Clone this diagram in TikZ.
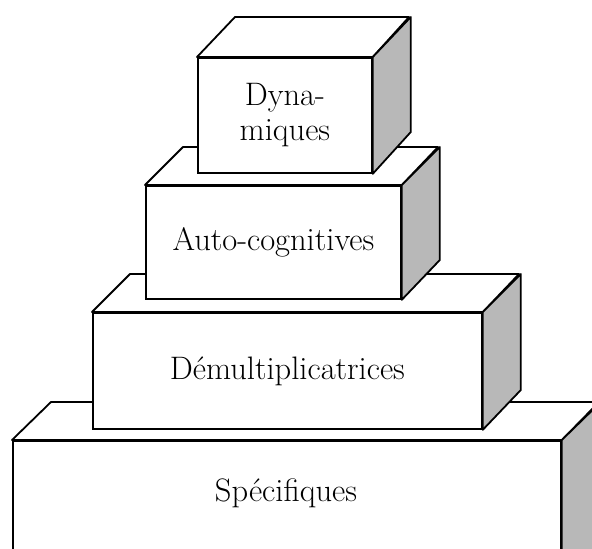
\documentclass[tikz,border=0pt]{standalone}

\tikzset{
	front/.style={draw, fill=white, line width=1.8pt, inner sep=0pt, anchor=north west, align=center, font=\fontsize{32.5}{38}\selectfont},
	topface/.style={draw, fill=white, line width=1.8pt, line join=round},
	sideface/.style={draw, fill=black!28, line width=1.8pt, line join=round},
}

\begin{document}
\begin{tikzpicture}[x=1pt, y=-1pt]
	\useasboundingbox (0,0) rectangle (592,549);
	\clip (0,0) rectangle (592,549);
	%Specifiques
		\node[front, minimum width=548, minimum height=160] (spe) at (12,440) {};
		\draw[topface] (spe.north west) -- ++(39,-38) -- ++(548,0) -- (spe.north east) -- cycle;
		\draw[sideface] (spe.north east) -- ++(39,-38) -- ++(0,160) -- (spe.south east) -- cycle;
		\node[font=\fontsize{32.5}{38}\selectfont] (spetxt) at (286,493) {Spécifiques};
	%Demultiplicatrices
		\node[front, minimum width=389, minimum height=116] (dem) at (92,312) {Démultiplicatrices};
		\draw[topface] (dem.north west) -- ++(38,-38) -- ++(389,0) -- (dem.north east) -- cycle;
		\draw[sideface] (dem.north east) -- ++(38,-38) -- ++(0,116) -- (dem.south east) -- cycle;
	%Auto-cognitives
		\node[front, minimum width=255, minimum height=113] (aut) at (145,185) {Auto-cognitives};
		\draw[topface] (aut.north west) -- ++(38,-38) -- ++(255,0) -- (aut.north east) -- cycle;
		\draw[sideface] (aut.north east) -- ++(38,-38) -- ++(0,113) -- (aut.south east) -- cycle;
	%Dynamiques
		\node[front, minimum width=174, minimum height=115] (dyn) at (197,57) {Dyna-\\[-3pt]miques};
		\draw[topface] (dyn.north west) -- ++(38,-40) -- ++(174,0) -- (dyn.north east) -- cycle;
		\draw[sideface] (dyn.north east) -- ++(38,-40) -- ++(0,115) -- (dyn.south east) -- cycle;
\end{tikzpicture}
\end{document}
